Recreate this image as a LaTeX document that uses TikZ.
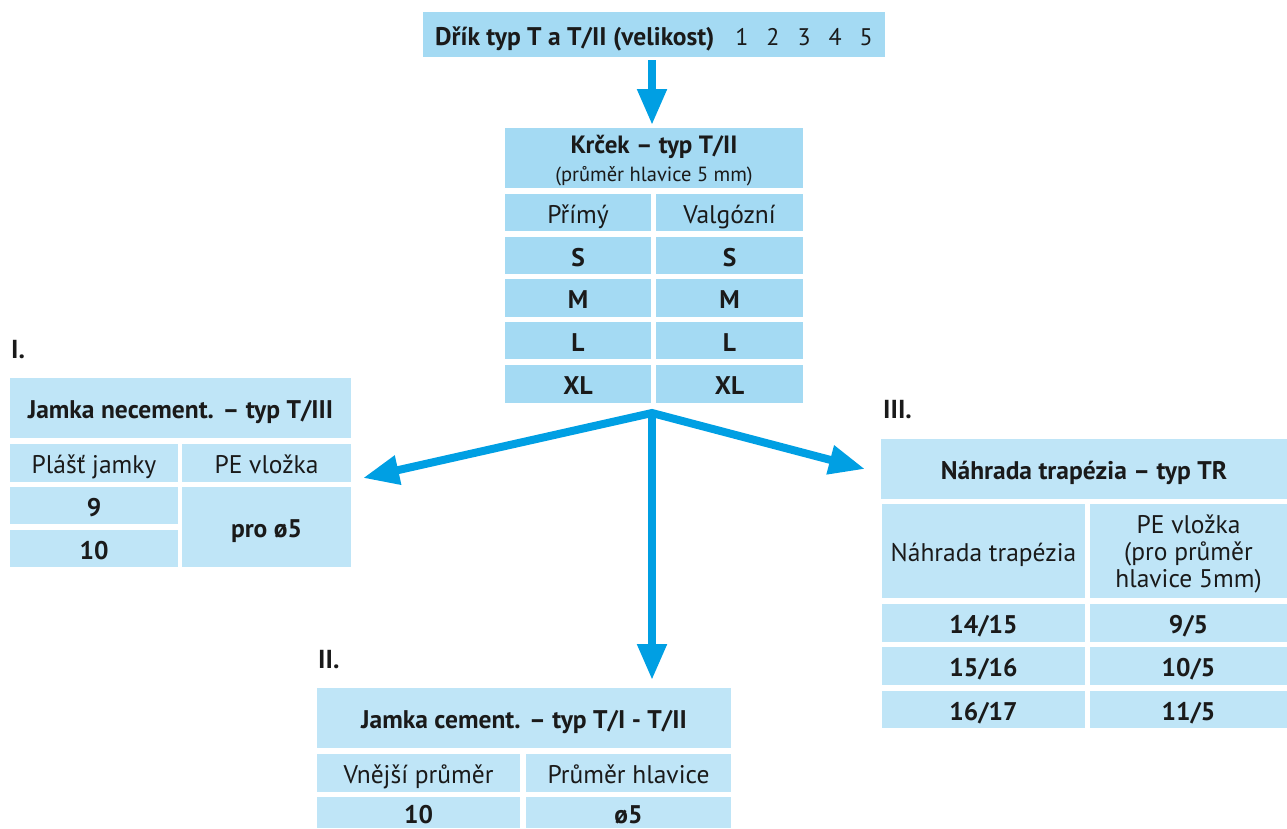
\documentclass[tikz,border=0pt]{standalone}
\usepackage{fontspec}
\setmainfont{PT Sans}
\usetikzlibrary{arrows.meta}
\definecolor{cellD}{HTML}{A4DAF3}
\definecolor{cellL}{HTML}{BFE5F7}
\definecolor{arrowblue}{HTML}{009FE3}
\definecolor{ink}{HTML}{1A1A1A}
\begin{document}
\begin{tikzpicture}[x=1pt,y=-1pt,
  cell/.style={inner sep=0pt, outer sep=0pt, align=center, text=ink, font=\fontsize{25.5}{27}\selectfont},
  one/.style={text height=21pt, text depth=0pt},
  dcell/.style={cell, fill=cellD},
  lcell/.style={cell, fill=cellL},
  bcell/.style={font=\fontsize{25.5}{27}\selectfont\bfseries},
  sz/.style 2 args={minimum width=#1, minimum height=#2},
  label/.style={inner sep=0pt, anchor=base west, text=ink, font=\fontsize{26}{28}\selectfont\bfseries},
  arr/.style={draw=arrowblue, line width=8pt, -{Triangle[length=36pt,width=28pt]}},
  darr/.style={draw=arrowblue, line width=8pt, {Triangle[length=36pt,width=28pt]}-{Triangle[length=36pt,width=28pt]}}
]
\useasboundingbox (0,0) rectangle (1287,828);

% top box
\node[dcell, one, sz={462pt}{45pt}] (top) at (654,34.5)
  {{\fontsize{25.5}{27}\selectfont\bfseries Dřík typ T a T/II (velikost)}\hspace{21pt}{\fontsize{24}{26}\selectfont 1\hspace{18pt}2\hspace{18pt}3\hspace{18pt}4\hspace{18pt}5}};

% Krcek
\node[dcell, text depth=0pt, sz={298pt}{60pt}] (kh) at (654,158)
  {{\fontsize{25}{27}\selectfont\bfseries Krček – typ T/II}\\[1pt]{\fontsize{20.5}{22}\selectfont (průměr hlavice 5 mm)}};
\node[dcell, one, sz={146pt}{37pt}] (k1a) at (578,212.5) {Přímý};
\node[dcell, one, sz={147pt}{37pt}] (k1b) at (729.5,212.5) {Valgózní};
\node[dcell, one, bcell, sz={146pt}{37pt}] (k2a) at (578,255.5) {S};
\node[dcell, one, bcell, sz={147pt}{37pt}] (k2b) at (729.5,255.5) {S};
\node[dcell, one, bcell, sz={146pt}{38pt}] (k3a) at (578,298) {M};
\node[dcell, one, bcell, sz={147pt}{38pt}] (k3b) at (729.5,298) {M};
\node[dcell, one, bcell, sz={146pt}{37pt}] (k4a) at (578,340.5) {L};
\node[dcell, one, bcell, sz={147pt}{37pt}] (k4b) at (729.5,340.5) {L};
\node[dcell, one, bcell, sz={146pt}{38pt}] (k5a) at (578,384) {XL};
\node[dcell, one, bcell, sz={147pt}{38pt}] (k5b) at (729.5,384) {XL};

% Table I
\node[label] (lI) at (11,358) {I.};
\node[lcell, one, bcell, sz={341pt}{60pt}] (ah) at (180.5,408) {Jamka necement. – typ T/III};
\node[lcell, one, sz={168pt}{38pt}] (a1a) at (94,463) {Plášť jamky};
\node[lcell, one, sz={169pt}{38pt}] (a1b) at (266.5,463) {PE vložka};
\node[lcell, one, bcell, sz={168pt}{37pt}] (a2a) at (94,505.5) {9};
\node[lcell, one, bcell, sz={168pt}{37pt}] (a3a) at (94,548.5) {10};
\node[lcell, one, bcell, sz={169pt}{80pt}] (a2b) at (266.5,527) {pro ø5};

% Table II
\node[label] (lII) at (318,668) {II.};
\node[lcell, one, bcell, sz={414pt}{60pt}] (bh) at (524,718) {Jamka cement. – typ T/I - T/II};
\node[lcell, one, sz={203pt}{38pt}] (b1a) at (418.5,773) {Vnější průměr};
\node[lcell, one, sz={205pt}{38pt}] (b1b) at (628.5,773) {Průměr hlavice};
\node[lcell, one, bcell, sz={203pt}{31pt}] (b2a) at (418.5,812.5) {10};
\node[lcell, one, bcell, sz={205pt}{31pt}] (b2b) at (628.5,812.5) {ø5};

% Table III
\node[label] (lIII) at (883,418) {III.};
\node[lcell, one, bcell, sz={406pt}{60pt}] (ch) at (1084,469) {Náhrada trapézia – typ TR};
\node[lcell, one, sz={203pt}{94pt}] (c1a) at (983.5,551) {Náhrada trapézia};
\node[lcell, text depth=0pt, sz={197pt}{94pt}] (c1b) at (1188.5,551) {PE vložka\\(pro průměr\\hlavice 5mm)};
\node[lcell, one, bcell, sz={203pt}{38pt}] (c2a) at (983.5,623) {14/15};
\node[lcell, one, bcell, sz={197pt}{38pt}] (c2b) at (1188.5,623) {9/5};
\node[lcell, one, bcell, sz={203pt}{38pt}] (c3a) at (983.5,666) {15/16};
\node[lcell, one, bcell, sz={197pt}{38pt}] (c3b) at (1188.5,666) {10/5};
\node[lcell, one, bcell, sz={203pt}{37pt}] (c4a) at (983.5,709.5) {16/17};
\node[lcell, one, bcell, sz={197pt}{37pt}] (c4b) at (1188.5,709.5) {11/5};

% arrows
\coordinate (hub) at (652,413);
\coordinate (tI) at (363,478);
\coordinate (tII) at (652,680);
\coordinate (tIII) at (865,469);
\coordinate (s0) at (652,60);
\coordinate (t0) at (652,125);
\draw[arr] (s0) -- (t0);
\draw[darr, line join=miter] (tI) -- (hub) -- (tIII);
\draw[arr] (hub) -- (tII);
\end{tikzpicture}
\end{document}
